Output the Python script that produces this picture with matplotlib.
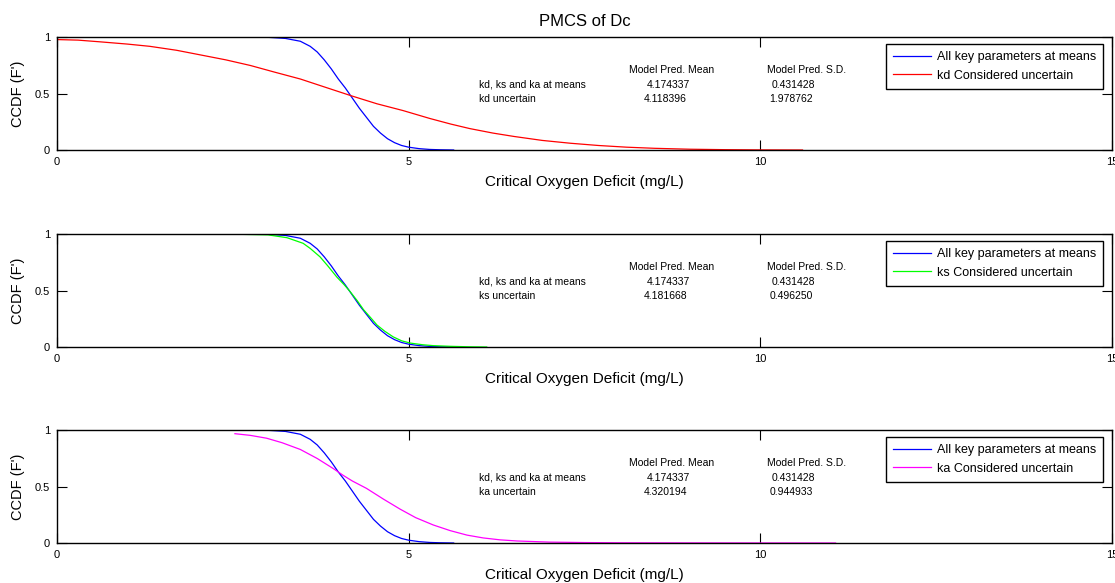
import matplotlib
matplotlib.use("Agg")
import matplotlib.pyplot as plt

# ===== DATA =====
# CCDF with all key parameters at their means (same curve in each panel)
base_x = [2.6, 3.0, 3.25, 3.46, 3.6, 3.7, 3.8, 3.9, 4.0, 4.1, 4.2, 4.3, 4.4,
          4.5, 4.6, 4.7, 4.8, 4.9, 5.0, 5.15, 5.3, 5.45, 5.64]
base_y = [1.0, 1.0, 0.99, 0.965, 0.92, 0.87, 0.80, 0.72, 0.63, 0.55, 0.46,
          0.37, 0.29, 0.21, 0.15, 0.10, 0.065, 0.04, 0.025, 0.012, 0.005,
          0.002, 0.0]

kd_x = [0, 0.3, 0.61, 1.0, 1.32, 1.7, 2.03, 2.4, 2.75, 3.1, 3.46, 3.8, 4.19,
        4.55, 4.92, 5.3, 5.6, 5.87, 6.2, 6.5, 6.9, 7.3, 7.7, 8.1, 8.5, 9.0,
        9.5, 10.0, 10.6]
kd_y = [0.98, 0.975, 0.96, 0.94, 0.92, 0.885, 0.845, 0.80, 0.75, 0.69, 0.63,
        0.56, 0.48, 0.41, 0.35, 0.28, 0.23, 0.19, 0.15, 0.12, 0.085, 0.06,
        0.04, 0.025, 0.015, 0.007, 0.003, 0.001, 0.0]

ks_x = [2.6, 3.0, 3.27, 3.5, 3.6, 3.74, 3.85, 3.98, 4.08, 4.17, 4.27, 4.36,
        4.46, 4.55, 4.66, 4.78, 4.9, 5.02, 5.2, 5.35, 5.6, 5.85, 6.11]
ks_y = [1.0, 0.995, 0.97, 0.92, 0.875, 0.80, 0.72, 0.62, 0.555, 0.49, 0.41,
        0.33, 0.26, 0.195, 0.14, 0.09, 0.055, 0.035, 0.02, 0.012, 0.006,
        0.002, 0.0]

ka_x = [2.53, 2.75, 2.98, 3.2, 3.46, 3.7, 3.93, 4.07, 4.2, 4.4, 4.64, 4.88,
        5.1, 5.35, 5.59, 5.83, 6.06, 6.3, 6.54, 7.0, 7.5, 8.0, 9.0, 10.0,
        11.07]
ka_y = [0.97, 0.955, 0.93, 0.89, 0.83, 0.75, 0.66, 0.60, 0.55, 0.485, 0.39,
        0.30, 0.225, 0.16, 0.11, 0.07, 0.045, 0.028, 0.018, 0.008, 0.004,
        0.002, 0.001, 0.0005, 0.0]

param_names = ["kd", "ks", "ka"]
param_colors = ["#ff0000", "#00ff00", "#ff00ff"]
base_mean = "4.174337"
base_sd = "0.431428"
unc_means = ["4.118396", "4.181668", "4.320194"]
unc_sds = ["1.978762", "0.496250", "0.944933"]

x_ticks = [0, 5, 10, 15]
y_ticks = [0, 0.5, 1]
x_label = "Critical Oxygen Deficit (mg/L)"
y_label = "CCDF (F')"
title = "PMCS of Dc"

plt.rcParams['font.family'] = ['Liberation Sans', 'DejaVu Sans']

fig = plt.figure(figsize=(11.15, 5.83), dpi=100)

# axes boxes in figure fractions: [left, bottom, width, height]
left, width, height = 0.0511, 0.9462, 0.1933
bottoms = [0.7427, 0.4048, 0.0686]

curves = [(kd_x, kd_y), (ks_x, ks_y), (ka_x, ka_y)]

for i, bot in enumerate(bottoms):
    ax = fig.add_axes([left, bot, width, height])
    ax.plot(base_x, base_y, color="#0000ff", lw=0.9,
            label="All key parameters at means")
    cx, cy = curves[i]
    ax.plot(cx, cy, color=param_colors[i], lw=0.9,
            label=f"{param_names[i]} Considered uncertain")

    ax.set_xlim(0, 15)
    ax.set_ylim(0, 1)
    ax.set_xticks(x_ticks)
    ax.set_yticks(y_ticks)
    ax.set_xticklabels([str(t) for t in x_ticks])
    ax.set_yticklabels(["0", "0.5", "1"])
    ax.tick_params(direction="in", length=7, width=0.8, top=True, right=True,
                   labelsize=8, pad=5, colors="black")
    for sp in ax.spines.values():
        sp.set_linewidth(1.0)
        sp.set_color("black")

    ax.set_xlabel(x_label, fontsize=11, labelpad=6)
    ax.set_ylabel(y_label, fontsize=10.5, labelpad=7)
    if i == 0:
        ax.set_title(title, fontsize=12, pad=8)

    # summary statistics text
    fs = 7.5
    ax.text(8.14, 0.71, "Model Pred. Mean", fontsize=fs, va="center")
    ax.text(10.1, 0.71, "Model Pred. S.D.", fontsize=fs, va="center")
    ax.text(6.0, 0.58, "kd, ks and ka at means", fontsize=fs, va="center")
    ax.text(8.38, 0.58, base_mean, fontsize=fs, va="center")
    ax.text(10.16, 0.58, base_sd, fontsize=fs, va="center")
    ax.text(6.0, 0.45, f"{param_names[i]} uncertain", fontsize=fs, va="center")
    ax.text(8.34, 0.45, unc_means[i], fontsize=fs, va="center")
    ax.text(10.13, 0.45, unc_sds[i], fontsize=fs, va="center")

    leg = ax.legend(loc="upper right", bbox_to_anchor=(0.9915, 0.94),
                    fontsize=9, handlelength=3.0, handletextpad=0.5,
                    borderpad=0.55, labelspacing=0.55, fancybox=False,
                    framealpha=1, borderaxespad=0)
    leg.get_frame().set_edgecolor("black")
    leg.get_frame().set_linewidth(1.0)

fig.savefig("out.png", dpi=100)
